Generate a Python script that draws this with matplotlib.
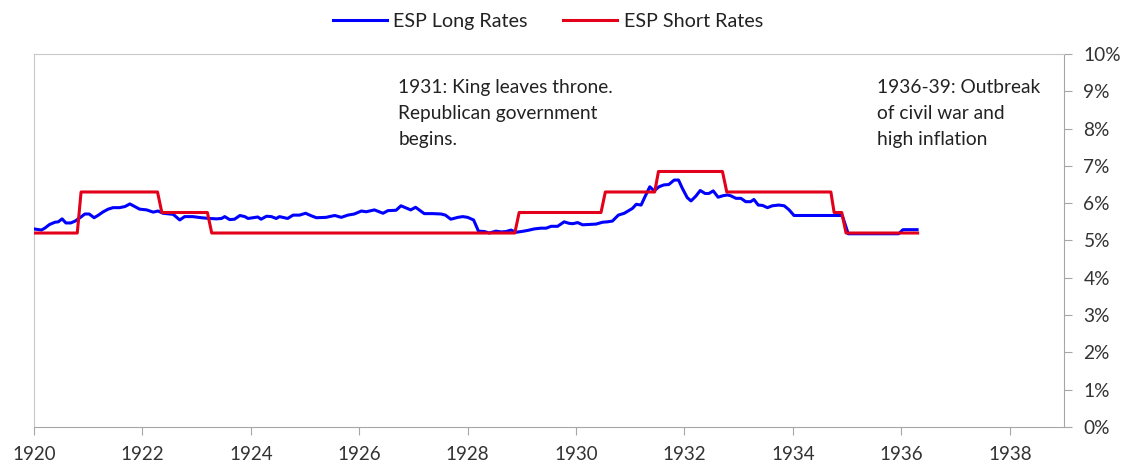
import matplotlib
matplotlib.use("Agg")
import matplotlib.pyplot as plt
from matplotlib.ticker import FuncFormatter

plt.rcParams['font.family'] = ['Lato', 'DejaVu Sans']

# Long rates (year, %)
long_years = [1920.00, 1920.14, 1920.20, 1920.29, 1920.39, 1920.45, 1920.52, 1920.59, 1920.68, 1920.76,
              1920.85, 1920.94, 1921.02, 1921.11, 1921.18, 1921.28, 1921.37, 1921.46, 1921.58, 1921.68,
              1921.77, 1921.86, 1921.95, 1922.08, 1922.20, 1922.29, 1922.38, 1922.57, 1922.66, 1922.69,
              1922.78, 1922.93, 1923.09, 1923.24, 1923.37, 1923.46, 1923.52, 1923.61, 1923.70, 1923.80,
              1923.89, 1923.95, 1924.04, 1924.13, 1924.19, 1924.29, 1924.38, 1924.47, 1924.53, 1924.62,
              1924.68, 1924.78, 1924.90, 1925.01, 1925.12, 1925.21, 1925.39, 1925.45, 1925.55, 1925.67,
              1925.79, 1925.91, 1926.04, 1926.13, 1926.28, 1926.44, 1926.53, 1926.68, 1926.77, 1926.95,
              1927.04, 1927.20, 1927.36, 1927.51, 1927.59, 1927.69, 1927.82, 1927.91, 1928.00, 1928.11,
              1928.20, 1928.31, 1928.40, 1928.52, 1928.62, 1928.71, 1928.80, 1928.89, 1928.99, 1929.11,
              1929.23, 1929.35, 1929.45, 1929.54, 1929.66, 1929.78, 1929.87, 1929.94, 1930.03, 1930.12,
              1930.24, 1930.37, 1930.49, 1930.58, 1930.67, 1930.78, 1930.89, 1930.98, 1931.04, 1931.11,
              1931.20, 1931.27, 1931.36, 1931.44, 1931.53, 1931.62, 1931.71, 1931.81, 1931.89, 1931.96,
              1932.05, 1932.12, 1932.21, 1932.29, 1932.38, 1932.45, 1932.53, 1932.62, 1932.71, 1932.79,
              1932.85, 1932.95, 1933.04, 1933.13, 1933.22, 1933.28, 1933.36, 1933.44, 1933.53, 1933.62,
              1933.74, 1933.84, 1933.93, 1934.02, 1934.91, 1935.02, 1935.95, 1936.03, 1936.29]
long_rates = [5.31, 5.28, 5.33, 5.43, 5.49, 5.50, 5.58, 5.47, 5.47, 5.52,
              5.61, 5.71, 5.71, 5.61, 5.67, 5.77, 5.84, 5.88, 5.88, 5.91,
              5.98, 5.91, 5.84, 5.82, 5.76, 5.79, 5.73, 5.70, 5.59, 5.55,
              5.64, 5.64, 5.61, 5.59, 5.58, 5.59, 5.64, 5.56, 5.57, 5.67,
              5.64, 5.59, 5.61, 5.63, 5.57, 5.65, 5.64, 5.59, 5.64, 5.61,
              5.59, 5.68, 5.68, 5.73, 5.66, 5.61, 5.62, 5.64, 5.67, 5.62,
              5.68, 5.71, 5.79, 5.77, 5.82, 5.73, 5.80, 5.81, 5.93, 5.82,
              5.89, 5.72, 5.72, 5.71, 5.68, 5.57, 5.62, 5.64, 5.62, 5.55,
              5.25, 5.24, 5.20, 5.25, 5.23, 5.24, 5.28, 5.22, 5.24, 5.27,
              5.31, 5.33, 5.33, 5.38, 5.38, 5.50, 5.46, 5.45, 5.48, 5.42,
              5.43, 5.44, 5.49, 5.50, 5.52, 5.68, 5.73, 5.81, 5.86, 5.97,
              5.95, 6.17, 6.44, 6.33, 6.44, 6.49, 6.50, 6.62, 6.62, 6.40,
              6.15, 6.06, 6.19, 6.34, 6.26, 6.26, 6.33, 6.16, 6.20, 6.22,
              6.20, 6.13, 6.13, 6.04, 6.04, 6.10, 5.95, 5.94, 5.88, 5.93,
              5.95, 5.93, 5.82, 5.67, 5.67, 5.18, 5.18, 5.29, 5.29]

# Short rates (year, %)
short_years = [1920.00, 1920.80, 1920.87, 1922.28, 1922.36, 1923.20, 1923.28, 1928.87, 1928.95,
               1930.46, 1930.54, 1931.45, 1931.52, 1932.70, 1932.78, 1934.70, 1934.76, 1934.90,
               1934.98, 1936.30]
short_rates = [5.20, 5.20, 6.30, 6.30, 5.75, 5.75, 5.20, 5.20, 5.75,
               5.75, 6.30, 6.30, 6.85, 6.85, 6.30, 6.30, 5.75, 5.75,
               5.20, 5.20]

x_ticks = list(range(1920, 1940, 2))
y_ticks = list(range(0, 11))

fig = plt.figure(figsize=(11.30, 4.69), dpi=100)
ax = fig.add_axes([0.030, 0.0896, 0.9116, 0.7953])

blue = '#0000FF'
red = '#E2001A'
ax.plot(long_years, long_rates, color=blue, lw=2.2, label='ESP Long Rates', zorder=3)
ax.plot(short_years, short_rates, color=red, lw=2.2, label='ESP Short Rates', zorder=4)

ax.set_xlim(1920, 1939)
ax.set_ylim(0, 10)
ax.set_xticks(x_ticks)
ax.set_yticks(y_ticks)
ax.yaxis.tick_right()
ax.yaxis.set_major_formatter(FuncFormatter(lambda v, p: f"{int(v)}%"))

for s in ['left', 'top']:
    ax.spines[s].set_color('#c8c8c8')
    ax.spines[s].set_linewidth(0.8)
for s in ['right', 'bottom']:
    ax.spines[s].set_color('#a6a6a6')
    ax.spines[s].set_linewidth(0.8)

ax.tick_params(axis='x', direction='out', length=6, width=0.8, color='#a6a6a6',
               labelsize=13.5, labelcolor='#333333', pad=8)
ax.tick_params(axis='y', direction='out', length=6, width=0.8, color='#a6a6a6',
               labelsize=13.8, labelcolor='#333333', pad=8, left=False, right=True)

ax.text(1926.72, 9.33, "1931: King leaves throne.\nRepublican government\nbegins.",
        fontsize=13.8, color='#222222', va='top', ha='left', linespacing=1.65)
ax.text(1935.55, 9.33, "1936-39: Outbreak\nof civil war and\nhigh inflation",
        fontsize=13.8, color='#222222', va='top', ha='left', linespacing=1.65)

leg = fig.legend(loc='center', bbox_to_anchor=(0.485, 0.955), ncol=2, frameon=False,
                 fontsize=14.2, handlelength=2.7, columnspacing=1.8, handletextpad=0.35)
for t in leg.get_texts():
    t.set_color('#222222')

fig.savefig('out.png', dpi=100)
